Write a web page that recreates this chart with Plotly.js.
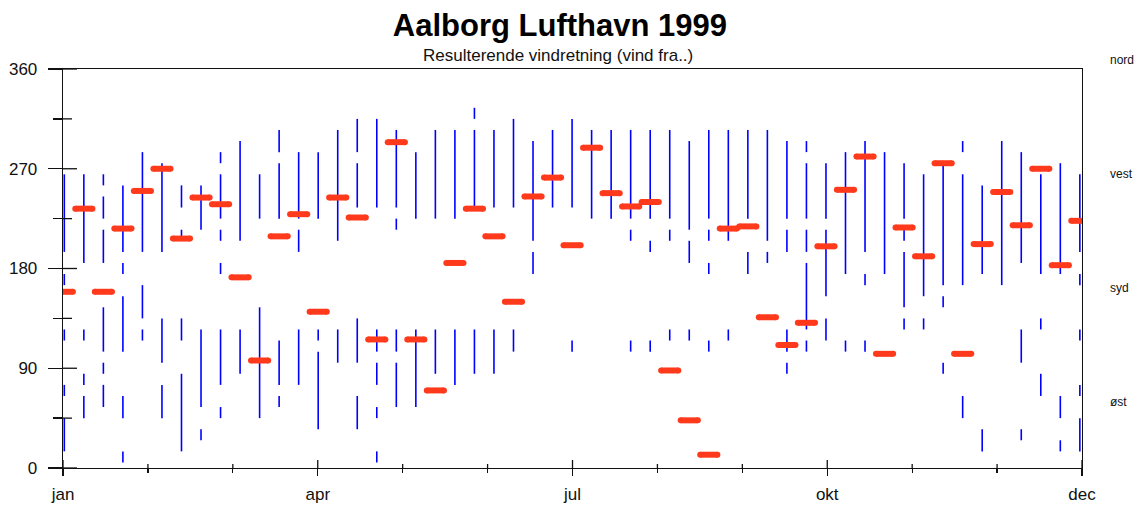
<!DOCTYPE html>
<html><head><meta charset="utf-8">
<script src="https://cdn.plot.ly/plotly-3.0.1.min.js"></script>
<style>html,body{margin:0;padding:0;background:#fff}#chart{width:1135px;height:506px}</style>
</head><body><div id="chart"></div>
<script>
// week index (0..52) across 1999
const weeks = [0,1,2,3,4,5,6,7,8,9,10,11,12,13,14,15,16,17,18,19,20,21,22,23,24,25,26,
  27,28,29,30,31,32,33,34,35,36,37,38,39,40,41,42,43,44,45,46,47,48,49,50,51,52];

// resulting wind direction (degrees) per week
const resultant = [159,234,159,216,250,270,207,244,238,172,97,209,229,141,244,226,116,294,116,70,
  185,234,209,150,245,262,201,289,248,236,240,88,43,12,216,218,136,111,131,200,251,281,103,217,
  191,275,103,202,249,219,270,183,223];

// observed wind-direction ranges per week [from, to] degrees
const observed = [
  [[195,265],[165,175],[115,125],[65,75],[15,45]],
  [[185,265],[115,125],[75,85],[45,65]],
  [[255,265],[225,245],[185,215],[105,145],[85,95],[55,75]],
  [[195,255],[175,185],[105,155],[45,65],[5,15]],
  [[195,285],[135,165],[115,125]],
  [[195,275],[95,135],[45,75]],
  [[235,255],[205,215],[115,135],[15,85]],
  [[215,255],[55,125],[25,35]],
  [[275,285],[225,265],[205,215],[175,185],[75,125],[45,55]],
  [[205,295],[85,125]],
  [[225,265],[45,145]],
  [[285,305],[225,275],[75,115],[55,65]],
  [[225,285],[195,215],[75,125]],
  [[225,285],[115,125],[35,105]],
  [[205,305],[95,125]],
  [[285,315],[235,275],[95,135],[35,65]],
  [[235,315],[105,125],[75,95],[45,55],[5,15]],
  [[235,305],[215,225],[105,125],[55,95]],
  [[225,285],[55,125]],
  [[225,305],[85,125]],
  [[225,305],[75,125]],
  [[315,325],[235,305],[85,125]],
  [[235,305],[85,125]],
  [[235,315],[105,125]],
  [[205,295],[175,195]],
  [[235,305]],
  [[235,315],[105,115]],
  [[225,305]],
  [[225,305]],
  [[225,305],[205,215],[105,115]],
  [[225,305],[195,205],[105,115]],
  [[225,305],[205,215],[115,125]],
  [[215,295],[185,205],[115,125]],
  [[225,305],[205,215],[175,185],[105,115]],
  [[205,305],[115,125]],
  [[225,305],[175,195]],
  [[205,305],[185,195]],
  [[225,295],[195,215],[105,125],[85,95]],
  [[285,295],[225,275],[195,215],[125,185],[105,115]],
  [[225,275],[155,215],[115,135]],
  [[175,285],[105,115]],
  [[195,295],[165,175],[105,115]],
  [[175,285]],
  [[225,275],[205,215],[145,195],[125,135]],
  [[155,265],[125,135]],
  [[165,275],[145,155],[85,95]],
  [[285,295],[165,265],[45,65]],
  [[175,255],[15,35]],
  [[165,295]],
  [[185,285],[95,125],[25,35]],
  [[175,265],[125,135],[65,85]],
  [[175,275],[45,65],[15,25]],
  [[195,265],[165,175],[115,125],[65,75],[15,45]]
];

const monthLabels = ['jan','','','apr','','','jul','','','okt','','','dec'];
const compassLabels = ['nord','vest','syd','øst'];
const yTicks = [0,90,180,270,360];
const yMinorTicks = [45,135,225,315];

// ---- build traces ----
const plotW = 1019, plotH = 399;
const xRange = [-0.067, 52.11];
const monthStep = (xRange[1] - xRange[0]) / 12;
const monthPos = monthLabels.map((_, k) => xRange[0] + k * monthStep);
const majorPos = monthPos.filter((_, k) => monthLabels[k] !== '');
const majorText = monthLabels.filter(t => t !== '');

const bx = [], by = [];
weeks.forEach((w, i) => {
  observed[i].forEach(s => { bx.push(w, w, null); by.push(s[0], s[1], null); });
});
const half = 0.44;
const rx = [], ry = [];
weeks.forEach((w, i) => { rx.push(w - half, w + half, null); ry.push(resultant[i], resultant[i], null); });

const red = '#ff3a1c';
const font = 'Liberation Sans, Arial, sans-serif';
const traces = [
  {x: bx, y: by, type: 'scatter', mode: 'lines', line: {color: '#0000ff', width: 1.6},
   hoverinfo: 'skip', showlegend: false, connectgaps: false},
  {x: rx, y: ry, type: 'scatter', mode: 'lines+markers', line: {color: red, width: 6},
   marker: {color: red, size: 6, line: {width: 0}},
   hoverinfo: 'skip', showlegend: false, connectgaps: false, cliponaxis: true}
];

const tickCol = '#111';
const tw = 1.3;
// inner halves of the crossing tick marks
const innerTicks = []
  .concat(yTicks.map(v => ({type: 'line', xref: 'paper', yref: 'y', x0: 0, x1: 14 / plotW, y0: v, y1: v,
                            line: {color: tickCol, width: tw}})))
  .concat(yMinorTicks.map(v => ({type: 'line', xref: 'paper', yref: 'y', x0: 0, x1: 9 / plotW, y0: v, y1: v,
                            line: {color: tickCol, width: tw}})))
  .concat(monthPos.map((p, k) => ({type: 'line', xref: 'x', yref: 'paper', x0: p, x1: p, y0: 0,
                            y1: (monthLabels[k] !== '' ? 8 : 4) / plotH, line: {color: tickCol, width: tw}})));

const layout = {
  width: 1135, height: 506,
  margin: {l: 63, r: 53, t: 69, b: 38, pad: 0},
  paper_bgcolor: '#fff', plot_bgcolor: '#fff',
  showlegend: false,
  font: {family: font, color: '#111', size: 17},
  title: {text: 'Aalborg Lufthavn 1999', font: {family: font, size: 31, weight: 'bold', color: '#000'},
          xref: 'paper', x: 0.4877, xanchor: 'center', yref: 'container', y: 0.951, yanchor: 'middle'},
  xaxis: {range: xRange, showgrid: false, zeroline: false, showline: true, mirror: true,
          linecolor: tickCol, linewidth: tw,
          tickmode: 'array', tickvals: majorPos, ticktext: majorText,
          ticks: 'outside', ticklen: 7, tickwidth: tw, tickcolor: tickCol,
          ticklabelstandoff: 3, tickfont: {size: 17, family: font, color: '#111'},
          minor: {tickmode: 'array', tickvals: monthPos, ticks: 'outside', ticklen: 4,
                  tickwidth: tw, tickcolor: tickCol, showgrid: false}},
  yaxis: {range: [0, 360], showgrid: false, zeroline: false, showline: true, mirror: true,
          linecolor: tickCol, linewidth: tw,
          tickmode: 'array', tickvals: yTicks,
          ticks: 'outside', ticklen: 14, tickwidth: tw, tickcolor: tickCol,
          ticklabelstandoff: 7, tickfont: {size: 17, family: font, color: '#111'},
          minor: {tickmode: 'array', tickvals: yMinorTicks, ticks: 'outside', ticklen: 9, tickwidth: tw,
                  tickcolor: tickCol, showgrid: false}},
  shapes: innerTicks,
  annotations: [
    {text: 'Resulterende vindretning (vind fra..)', xref: 'paper', yref: 'paper', x: 0.4853, y: 1.0326,
     xanchor: 'center', yanchor: 'middle', showarrow: false, font: {family: font, size: 17, color: '#111'}}
  ].concat(compassLabels.map((t, k) => ({
     text: t, xref: 'paper', yref: 'paper', x: 1.0255, y: [1.0226, 0.737, 0.4508, 0.1653][k],
     xanchor: 'left', yanchor: 'middle', showarrow: false, font: {family: font, size: 12, color: '#111'}})))
};

Plotly.newPlot('chart', traces, layout, {staticPlot: true, displayModeBar: false});
</script>
</body></html>
